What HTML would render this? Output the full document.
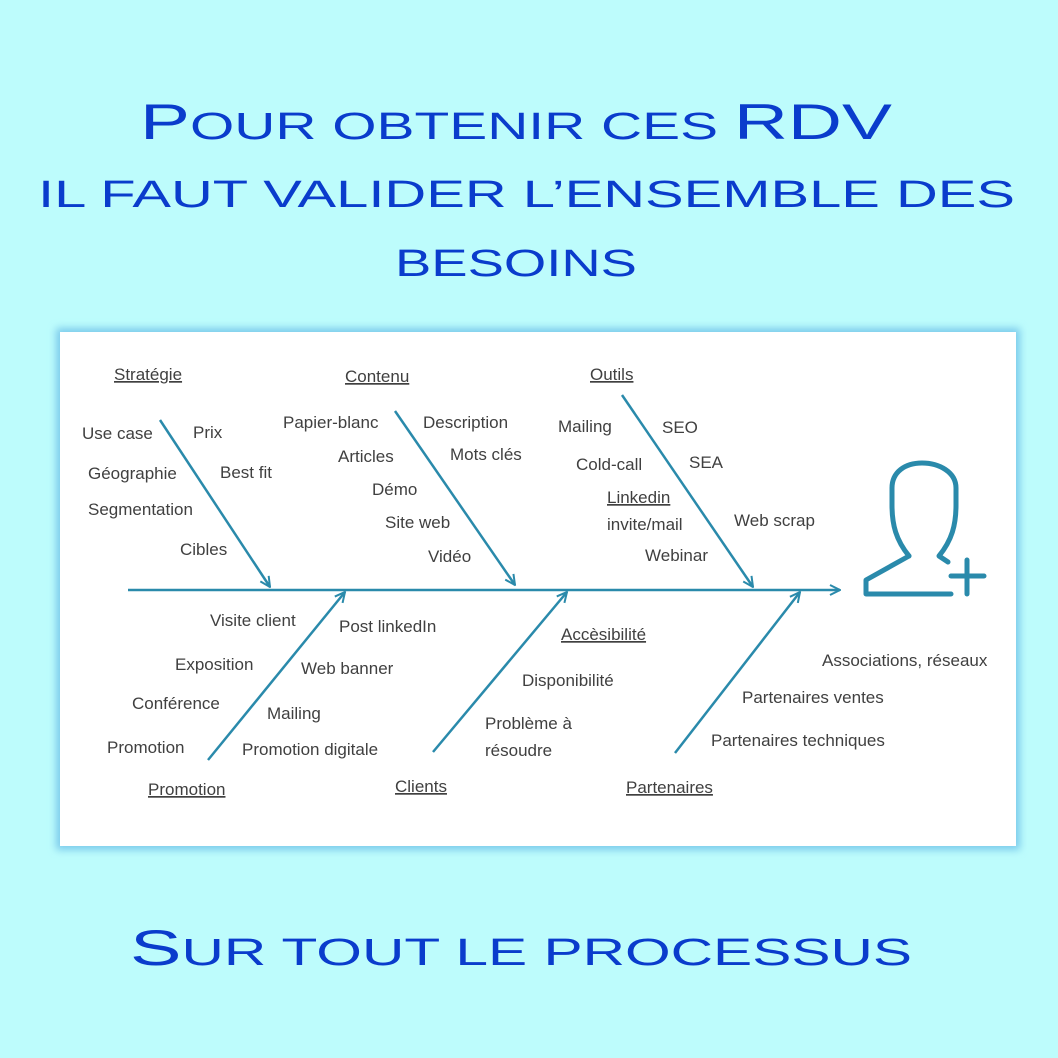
<!DOCTYPE html>
<html><head><meta charset="utf-8"><style>
html,body{margin:0;padding:0;background:#bdfcfc;}
svg{display:block}
.t{font-family:"Liberation Sans",sans-serif;font-size:17px;fill:#404040}
.h{font-family:"Liberation Sans",sans-serif;fill:#0a3ccc;font-weight:normal}
</style></head><body>
<svg width="1058" height="1058" viewBox="0 0 1058 1058" xmlns="http://www.w3.org/2000/svg">
<defs>
<marker id="a" viewBox="0 0 12 12" refX="11" refY="6" markerWidth="12" markerHeight="12" markerUnits="userSpaceOnUse" orient="auto">
<path d="M1,1 L11,6 L1,11" fill="none" stroke="#2a8aab" stroke-width="2"/>
</marker>
<filter id="g" x="-5%" y="-5%" width="110%" height="110%"><feGaussianBlur stdDeviation="4"/></filter>
</defs>
<rect width="1058" height="1058" fill="#bdfcfc"/>
<!-- titles -->
<text class="h" y="139" x="140" textLength="752" lengthAdjust="spacingAndGlyphs"><tspan font-size="50">P</tspan><tspan font-size="38">OUR OBTENIR CES </tspan><tspan font-size="50">RDV</tspan></text>
<text class="h" y="207" x="38" font-size="38" textLength="977" lengthAdjust="spacingAndGlyphs">IL FAUT VALIDER L’ENSEMBLE DES</text>
<text class="h" y="276" x="395" font-size="38" textLength="242" lengthAdjust="spacingAndGlyphs">BESOINS</text>
<text class="h" y="965" x="130" textLength="782" lengthAdjust="spacingAndGlyphs"><tspan font-size="50">S</tspan><tspan font-size="38">UR TOUT LE PROCESSUS</tspan></text>
<!-- panel -->
<rect x="56" y="328" width="964" height="522" fill="#7ccbec" filter="url(#g)"/>
<rect x="60" y="332" width="956" height="514" fill="#ffffff"/>
<g stroke="#2a8aab" stroke-width="2.5" fill="none" marker-end="url(#a)">
<line x1="128" y1="590" x2="840" y2="590"/>
<line x1="160" y1="420" x2="270" y2="587"/>
<line x1="395" y1="411" x2="515" y2="585"/>
<line x1="622" y1="395" x2="753" y2="587"/>
<line x1="208" y1="760" x2="345" y2="592"/>
<line x1="433" y1="752" x2="567" y2="592"/>
<line x1="675" y1="753" x2="800" y2="592"/>
</g>
<!-- icon -->
<g stroke="#2a8aab" stroke-width="5" fill="none" stroke-linecap="round" stroke-linejoin="round">
<path d="M909,556 C896,540 892,525 892,505 L892,488 C892,472 905,463 922,463 C939,463 956,472 956,488 L956,505 C956,525 952,540 939,556 L948,562"/>
<path d="M909,556 L866,580 L866,594 L951,594"/>
<line x1="951" y1="576" x2="984" y2="576"/>
<line x1="967" y1="560" x2="967" y2="594"/>
</g>
<g class="t">
<text x="114" y="380" text-decoration="underline">Stratégie</text>
<text x="82" y="439">Use case</text>
<text x="193" y="438">Prix</text>
<text x="88" y="479">Géographie</text>
<text x="220" y="478">Best fit</text>
<text x="88" y="515">Segmentation</text>
<text x="180" y="555">Cibles</text>
<text x="345" y="382" text-decoration="underline">Contenu</text>
<text x="283" y="428">Papier-blanc</text>
<text x="423" y="428">Description</text>
<text x="338" y="462">Articles</text>
<text x="450" y="460">Mots clés</text>
<text x="372" y="495">Démo</text>
<text x="385" y="528">Site web</text>
<text x="428" y="562">Vidéo</text>
<text x="590" y="380" text-decoration="underline">Outils</text>
<text x="558" y="432">Mailing</text>
<text x="662" y="433">SEO</text>
<text x="576" y="470">Cold-call</text>
<text x="689" y="468">SEA</text>
<text x="607" y="503" text-decoration="underline">Linkedin</text>
<text x="607" y="530">invite/mail</text>
<text x="734" y="526">Web scrap</text>
<text x="645" y="561">Webinar</text>
<text x="210" y="626">Visite client</text>
<text x="339" y="632">Post linkedIn</text>
<text x="175" y="670">Exposition</text>
<text x="301" y="674">Web banner</text>
<text x="132" y="709">Conférence</text>
<text x="267" y="719">Mailing</text>
<text x="107" y="753">Promotion</text>
<text x="242" y="755">Promotion digitale</text>
<text x="148" y="795" text-decoration="underline">Promotion</text>
<text x="561" y="640" text-decoration="underline">Accèsibilité</text>
<text x="522" y="686">Disponibilité</text>
<text x="485" y="729">Problème à</text>
<text x="485" y="756">résoudre</text>
<text x="395" y="792" text-decoration="underline">Clients</text>
<text x="822" y="666">Associations, réseaux</text>
<text x="742" y="703">Partenaires  ventes</text>
<text x="711" y="746">Partenaires techniques</text>
<text x="626" y="793" text-decoration="underline">Partenaires</text>
</g>
</svg>
</body></html>
